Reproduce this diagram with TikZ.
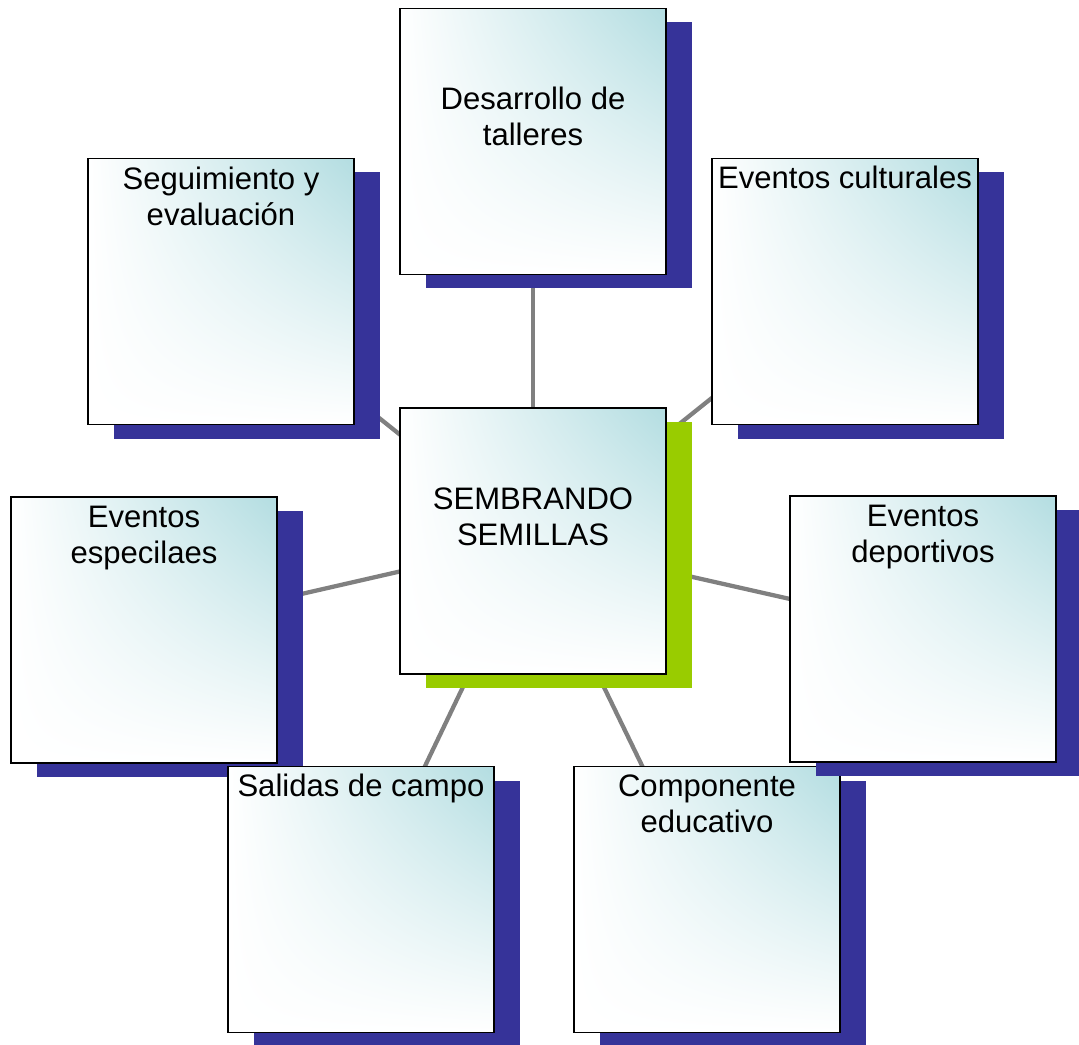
\documentclass[tikz,border=0pt]{standalone}
\usepackage{fontspec}
\setmainfont{Liberation Sans}
\usepackage{tikz}
\usetikzlibrary{positioning}
\usetikzlibrary{shadows}
\usetikzlibrary{shadings}
\usetikzlibrary{backgrounds}
\definecolor{tileblue}{HTML}{363399}
\definecolor{tilegreen}{HTML}{99CC00}
\definecolor{tileteal}{HTML}{B3DDE1}
\definecolor{linkgray}{HTML}{808080}
\tikzset{tile/.style = {draw, line width=1.2pt, minimum size=199.5pt, inner sep=0,
                        shading=bilinear interpolation, upper right=tileteal,
                        upper left=white, lower left=white, lower right=white,
                        drop shadow={shadow xshift=19.5pt, shadow yshift=-10.5pt,
                                     fill=tileblue, opacity=1}}}
\tikzset{hub/.style = {tile, drop shadow={shadow xshift=19.5pt, shadow yshift=-10.5pt,
                                          fill=tilegreen, opacity=1}}}
\tikzset{txt/.style = {align=center, anchor=base, inner sep=0,
                       font=\fontsize{23.3pt}{27pt}\selectfont}}
\tikzset{link/.style = {draw=linkgray, line width=3.2pt}}

\begin{document}
\begin{tikzpicture}[x=0.75pt, y=-0.75pt]
          \useasboundingbox (0, 0) rectangle (1079, 1045);
          \node [hub] (sem) at (533, 541) {};
          \node [tile] (taller) at (533, 141.5) {};
          \node [tile] (segui) at (221, 291.5) {};
          \node [tile] (cultu) at (845, 291.5) {};
          \node [tile] (espec) at (144, 630) {};
          \node [tile] (salid) at (361, 899.5) {};
          \node [tile] (compo) at (707, 899.5) {};
          \node [tile] (depor) at (923, 629) {};
          % two-line texts sit on their last line
          \node [txt] (semtxt) at ([yshift=-103.5pt]sem.north) {SEMBRANDO\\SEMILLAS};
          \node [txt] (tallertxt) at ([yshift=-103.5pt]taller.north) {Desarrollo de\\talleres};
          \node [txt] (seguitxt) at ([yshift=-51pt]segui.north) {Seguimiento y\\evaluación};
          \node [txt] (cultutxt) at ([yshift=-23.25pt]cultu.north) {Eventos culturales};
          \node [txt] (espectxt) at ([yshift=-50.25pt]espec.north) {Eventos\\especilaes};
          \node [txt] (salidtxt) at ([yshift=-23.25pt]salid.north) {Salidas de campo};
          \node [txt] (compotxt) at ([yshift=-50.25pt]compo.north) {Componente\\educativo};
          \node [txt] (deportxt) at ([yshift=-50.25pt]depor.north) {Eventos\\deportivos};
          \begin{scope}[on background layer]
            \foreach \n in {taller, segui, cultu, espec, salid, compo, depor}
              \draw [link] (sem.center) -- (\n.center);
          \end{scope}
        \end{tikzpicture}
\end{document}
